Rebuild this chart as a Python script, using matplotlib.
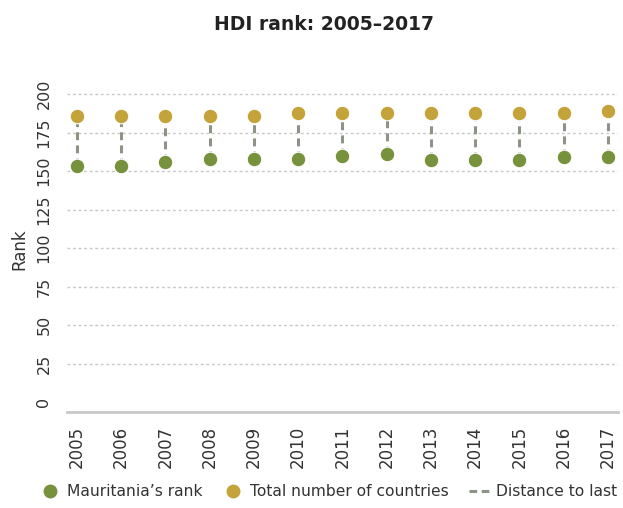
import matplotlib
matplotlib.use("Agg")
import matplotlib.pyplot as plt
from matplotlib.lines import Line2D

years = ["2005", "2006", "2007", "2008", "2009", "2010", "2011",
         "2012", "2013", "2014", "2015", "2016", "2017"]
mauritania_rank = [153, 153, 156, 158, 158, 158, 160, 161, 157, 157, 157, 159, 159]
total_countries = [186, 186, 186, 186, 186, 188, 188, 188, 188, 188, 188, 188, 189]
yticks = [0, 25, 50, 75, 100, 125, 150, 175, 200]

GREEN = "#76923c"
GOLD = "#c4a43a"
DASH = "#8b9485"
GRID = "#c8c8c8"
TEXT = "#333333"

plt.rcParams["font.family"] = ["DejaVu Sans"]

fig = plt.figure(figsize=(6.23, 5.08), dpi=100)
ax = fig.add_axes([0.107, 0.189, 0.885, 0.641])

DASHES = (0, (2.6, 1.7))
x = list(range(len(years)))
for xi, lo, hi in zip(x, mauritania_rank, total_countries):
    ax.plot([xi, xi], [lo, hi], color=DASH, lw=2.2, ls=DASHES,
            zorder=2, dash_capstyle="butt")
ax.plot(x, mauritania_rank, "o", color=GREEN, ms=10.5, mec="white", mew=0.8,
        zorder=3, ls="none")
ax.plot(x, total_countries, "o", color=GOLD, ms=10.5, mec="white", mew=0.8,
        zorder=3, ls="none")

ax.set_xlim(-0.23, 12.23)
ax.set_ylim(-6.3, 205)
ax.set_xticks(x)
ax.set_xticklabels(years, rotation=90, fontsize=12, color=TEXT)
ax.set_yticks(yticks)
ax.set_yticklabels([str(v) for v in yticks], rotation=90, va="center",
                   fontsize=11.5, color=TEXT)
ax.tick_params(axis="both", length=0)
ax.tick_params(axis="x", pad=10)
ax.tick_params(axis="y", pad=11)

ax.grid(axis="y", color=GRID, ls=(0, (2, 2)), lw=1)
ax.set_axisbelow(True)
ax.yaxis.get_gridlines()[0].set_visible(False)
for s in ["top", "right", "left"]:
    ax.spines[s].set_visible(False)
ax.spines["bottom"].set_color(GRID)
ax.spines["bottom"].set_linewidth(2)

ax.set_ylabel("Rank", fontsize=12, color=TEXT, labelpad=6)

fig.suptitle("HDI rank: 2005–2017", x=0.52, y=0.97, fontsize=13.5,
             fontweight="bold", color="#222222")

handles = [
    Line2D([], [], marker="o", color=GREEN, ls="none", ms=9),
    Line2D([], [], marker="o", color=GOLD, ls="none", ms=9),
    Line2D([], [], color=DASH, lw=2.2, ls=(0, (2.5, 1.5))),
]
labels = ["Mauritania’s rank", "Total number of countries", "Distance to last"]
fig.legend(handles, labels, loc="lower center", bbox_to_anchor=(0.527, -0.01),
           ncol=3, frameon=False, fontsize=11.2, handlelength=1.4,
           handletextpad=0.35, columnspacing=1.3, labelcolor=TEXT)

fig.savefig("out.png", dpi=100)
